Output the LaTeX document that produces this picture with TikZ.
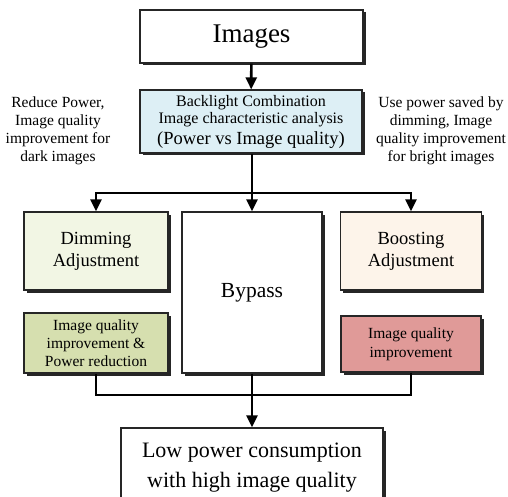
\documentclass[tikz,border=0pt]{standalone}
\usepackage{fontspec}
\setmainfont{Liberation Serif}
\usetikzlibrary{arrows.meta,shadows}
\definecolor{blfill}{HTML}{DDEFF5}
\definecolor{dimfill}{HTML}{F2F6E4}
\definecolor{iqgreen}{HTML}{D6DFAF}
\definecolor{boostfill}{HTML}{FDF4EA}
\definecolor{iqpink}{HTML}{E09A98}
\tikzset{
  box/.style={draw=black!85, line width=1.2pt, inner sep=0pt, align=center,
    drop shadow={shadow xshift=2.5pt, shadow yshift=-2.5pt, fill=black!85, opacity=1}},
  conn/.style={line width=2.6pt, black},
  arr/.style={conn, -{Triangle[width=11pt,length=12pt]}},
  side/.style={align=center, inner sep=0pt, font=\fontsize{15.5}{18}\selectfont}
}
\begin{document}
\begin{tikzpicture}[x=1pt,y=-1pt]
\fill[white] (0,0) rectangle (508,497);
\useasboundingbox (0,0) rectangle (508,497);
\clip (0,0) rectangle (508,497);

\node[box, fill=white, minimum width=223pt, minimum height=53pt,
  font=\fontsize{27}{30}\selectfont] (img) at (251.5,36.5) {Images};

\node[box, fill=blfill, minimum width=222pt, minimum height=63pt,
  font=\fontsize{16}{18}\selectfont] (bl) at (251,121.5)
  {Backlight Combination\\[-1pt]
   Image characteristic analysis\\[3pt]
   {\fontsize{18.5}{20}\selectfont (Power vs Image quality)}};

\node[side] (lt) at (58,131) {Reduce Power,\\Image quality\\improvement for\\dark images};
\node[side] (rt) at (441,131) {Use power saved by\\dimming, Image\\quality improvement\\for bright images};

\node[box, fill=dimfill, minimum width=144pt, minimum height=78pt,
  font=\fontsize{18.5}{22}\selectfont] (dim) at (96,251) {Dimming\\Adjustment};
\node[box, fill=white, minimum width=140pt, minimum height=161pt,
  font=\fontsize{21.5}{24}\selectfont] (byp) at (252,292.5) {Bypass};
\node[box, fill=boostfill, minimum width=141pt, minimum height=78pt,
  font=\fontsize{18.5}{22}\selectfont] (bst) at (411,251) {Boosting\\Adjustment};

\node[box, fill=iqgreen, minimum width=144pt, minimum height=60pt,
  font=\fontsize{15.5}{18}\selectfont] (iq1) at (96,343) {Image quality\\improvement \&\\Power reduction};
\node[box, fill=iqpink, minimum width=140pt, minimum height=56pt,
  font=\fontsize{15.5}{19}\selectfont] (iq2) at (411,344) {Image quality\\improvement};

\node[box, fill=white, minimum width=262pt, minimum height=80pt,
  font=\fontsize{22}{30}\selectfont] (low) at (252,468) {Low power consumption\\with high image quality};

\coordinate (j1) at (252,193);
\coordinate (j2) at (252,395);

\draw[arr] (img) -- (bl);
\draw[conn] (bl.south -| j1) -- (j1);
\draw[arr] (j1) -| (dim.north);
\draw[arr] (j1) -- (byp.north);
\draw[arr] (j1) -| (bst.north);
\draw[conn] (iq1.south) |- (j2);
\draw[conn] (iq2.south) |- (j2);
\draw[arr] (byp.south) -- (low.north);
\end{tikzpicture}
\end{document}
